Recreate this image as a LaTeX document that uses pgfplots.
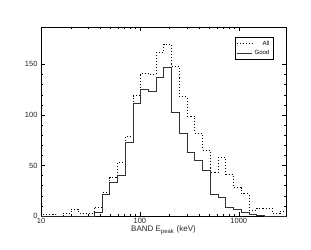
\documentclass[border=0pt]{standalone}
\usepackage{fontspec}
\setmainfont{Liberation Sans}
\usepackage{pgfplots}
\pgfplotsset{compat=1.18}
\begin{document}
\begin{tikzpicture}
\begin{axis}[
  scale only axis, width=245pt, height=189pt,
  xmode=log, xmin=10, xmax=3000, ymin=0, ymax=187,
  xtick={10,100,1000}, xticklabels={10,100,1000},
  ytick={0,50,100,150},
  minor y tick num=4,
  tick align=inside,
  major tick length=4pt, minor tick length=2pt,
  axis line style={black, line width=0.5pt},
  tick style={black, line width=0.4pt},
  /pgf/number format/assume math mode=true,
  ticklabel style={font=\fontsize{7.5}{8}\selectfont, text=black!85},
  xticklabel style={yshift=1pt},
  xlabel={BAND E\textsubscript{peak} (keV)},
  xlabel style={font=\fontsize{8}{9}\selectfont, text=black!85, yshift=5pt},
  legend style={at={(0.947,0.947)}, anchor=north east, font=\fontsize{6}{7}\selectfont, draw=black, inner sep=1.5pt, row sep=-0.5pt},
  legend cell align=right,
  legend image code/.code={\draw[#1] (0cm,0cm) -- (0.55cm,0cm);},
]
\addplot[const plot, black, line width=0.7pt, dash pattern=on 1.1pt off 2pt] coordinates {
(9.77,2) (11.70,2) (14.02,0) (16.79,3) (20.10,7) (24.07,3) (28.82,3) (34.51,9)
(41.30,23) (49.45,38) (59.21,53) (70.9,79) (84.9,119) (101.6,141) (121.7,140)
(145.7,162) (174.5,170) (208.9,148) (250.1,118) (299.5,99) (358.6,82) (429.4,65)
(514.1,43) (615.6,58) (737.1,41) (882.6,28) (1056.8,22) (1265.4,6) (1515.2,8)
(1814.2,8) (2172.3,3) (2601,5) (3114,5)};
\addlegendentry{All}
\addplot[const plot, black!80, line width=0.7pt] coordinates {
(9.77,0) (11.70,0) (14.02,0) (16.79,0) (20.10,0) (24.07,0) (28.82,0) (34.51,4)
(41.30,21) (49.45,33) (59.21,40) (70.9,73) (84.9,111) (101.6,125) (121.7,123)
(145.7,137) (174.5,147) (208.9,103) (250.1,82) (299.5,63) (358.6,55) (429.4,45)
(514.1,21) (615.6,18) (737.1,9) (882.6,7) (1056.8,4) (1265.4,2) (1515.2,1)
(1814.2,0) (2172.3,0) (2601,0) (3114,0)};
\addlegendentry{Good}
\end{axis}
\path ([shift={(-41pt,-33pt)}]current axis.south west) rectangle ([shift={(25pt,27pt)}]current axis.north east);
\end{tikzpicture}
\end{document}
